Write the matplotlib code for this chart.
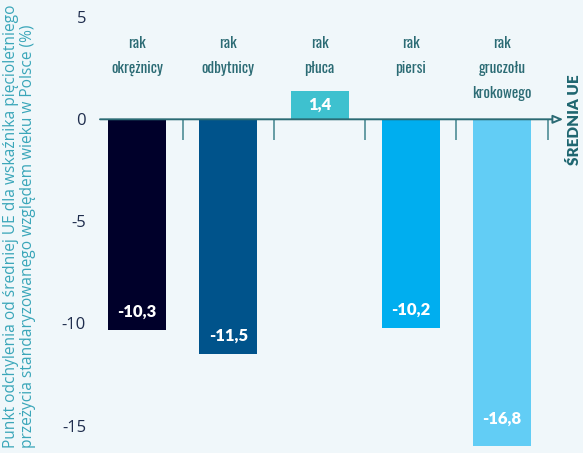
import matplotlib.pyplot as plt

categories = ['rak\nokrężnicy', 'rak\nodbytnicy', 'rak\npłuca', 'rak\npiersi', 'rak\ngruczołu\nkrokowego']
values = [-10.3, -11.5, 1.4, -10.2, -16.8]
value_labels = ['-10,3', '-11,5', '1,4', '-10,2', '-16,8']
colors = ['#00002a', '#00538b', '#3ec1cf', '#00aeef', '#62cdf5']
yticks = [5, 0, -5, -10, -15]

bg = '#f0f7fa'
teal = '#2b6b74'
bold_font = ['Lato', 'DejaVu Sans']

fig = plt.figure(figsize=(5.83, 4.53), dpi=100)
fig.patch.set_facecolor(bg)
ax = fig.add_axes([100 / 583, 7 / 453, 466 / 583, 439 / 453])
ax.set_facecolor(bg)

ymin, ymax = -16.0, 5.5
x = list(range(len(values)))
ax.bar(x, values, width=0.635, color=colors, zorder=2)

# os zero ze strzalka
ax.annotate('', xy=(4.67, 0), xytext=(-0.405, 0),
            arrowprops=dict(arrowstyle='-|>,head_length=0.6,head_width=0.25',
                            color=teal, lw=1.4, fc=bg, shrinkA=0, shrinkB=0),
            zorder=3)
ax.vlines([i + 0.5 for i in x], -1.0, 0, color='#4f8d96', lw=1.2, zorder=1)

for i, (v, lab) in enumerate(zip(values, value_labels)):
    if v > 0:
        ty = v / 2
    else:
        ty = max(v + 0.9, ymin + 1.35)
    ax.text(i, ty, lab, ha='center', va='center', color='white',
            fontsize=12, fontweight='heavy', family=bold_font, zorder=4)

for i, c in enumerate(categories):
    ax.text(i, 4.1, c, ha='center', va='top', color=teal, fontsize=11,
            linespacing=1.85, family=['Oswald', 'Roboto Condensed', 'DejaVu Sans'])

ax.set_xlim(-0.405, 4.7)
ax.set_ylim(ymin, ymax)
ax.set_xticks([])
ax.set_yticks(yticks)
ax.set_yticklabels([str(t) for t in yticks], color='#1f2d4d', fontsize=12,
                   family=['Open Sans', 'DejaVu Sans'])
ax.tick_params(axis='y', length=0, pad=10)
for s in ax.spines.values():
    s.set_visible(False)

fig.text(0.006, 0.5, 'Punkt odchylenia od średniej UE dla wskaźnika pięcioletniego\n'
         'przeżycia standaryzowanego względem wieku w Polsce (%)',
         rotation=90, ha='left', va='center', color='#3aa6b9', fontsize=11.2,
         linespacing=1.05, family=['Open Sans', 'DejaVu Sans'])

ax.text(1.002, 0, 'ŚREDNIA UE', transform=ax.get_yaxis_transform(), rotation=90,
        ha='left', va='center', color='#1e6670', fontsize=11, fontweight='heavy',
        family=bold_font, clip_on=False)

fig.savefig('out.png', dpi=100, facecolor=bg)
